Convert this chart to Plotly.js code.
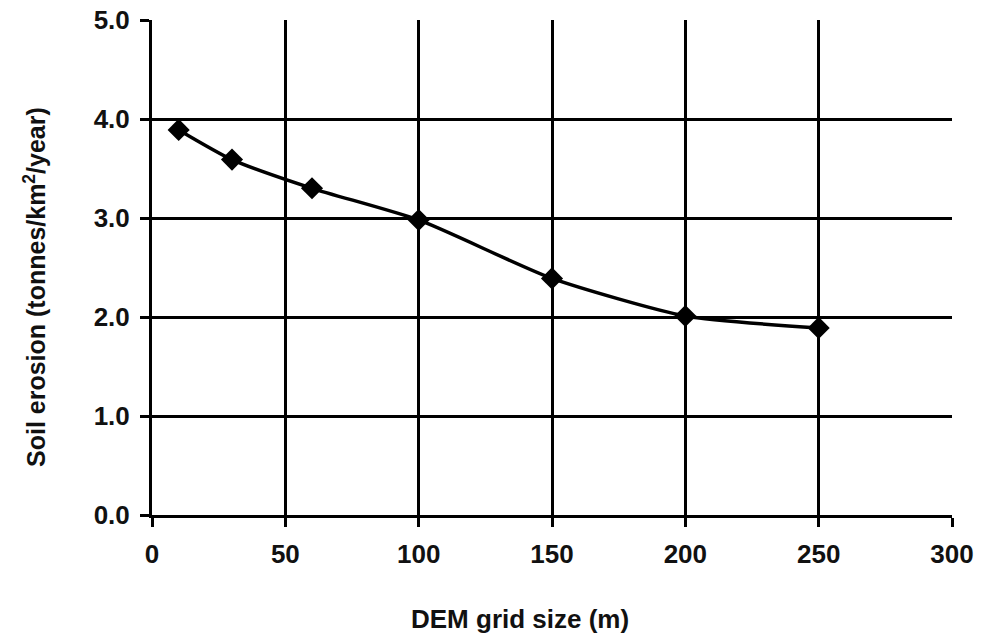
<!DOCTYPE html>
<html>
<head>
<meta charset="utf-8">
<script src="https://cdn.plot.ly/plotly-3.0.1.min.js"></script>
<style>html,body{margin:0;padding:0;background:#fff;}#chart{width:1000px;height:639px;}</style>
</head>
<body>
<div id="chart"></div>
<script>
const gridSize = [10, 30, 60, 100, 150, 200, 250];
const soilErosion = [3.89, 3.59, 3.30, 2.98, 2.39, 2.01, 1.89];
const xTitle = '<b>DEM grid size (m)</b>';
const yTitle = '<b>Soil erosion (tonnes/km<sup>2</sup>/year)</b>';

const fontFam = '"Liberation Sans", Arial, sans-serif';
const tickFont = {family: fontFam, size: 26, color: '#111', weight: 'bold'};

const trace = {
  x: gridSize,
  y: soilErosion,
  type: 'scatter',
  mode: 'lines+markers',
  line: {color: '#000', width: 3.5, shape: 'spline', smoothing: 0.6},
  marker: {symbol: 'diamond', size: 17, color: '#000'},
  showlegend: false,
  hoverinfo: 'x+y'
};

const layout = {
  width: 1000, height: 639,
  margin: {l: 152, r: 48, t: 20, b: 124},
  paper_bgcolor: '#fff', plot_bgcolor: '#fff',
  font: {family: fontFam, color: '#111', size: 21},
  xaxis: {
    range: [0, 300], dtick: 50, tick0: 0,
    showgrid: true, gridcolor: '#000', gridwidth: 3,
    ticks: 'outside', ticklen: 9, tickwidth: 3, tickcolor: '#000',
    showline: true, linecolor: '#000', linewidth: 3,
    zeroline: false,
    tickfont: tickFont,
    ticklabelstandoff: 5,
    automargin: false
  },
  yaxis: {
    range: [0, 5], dtick: 1, tick0: 0, tickformat: '.1f',
    showgrid: true, gridcolor: '#000', gridwidth: 3,
    ticks: 'outside', ticklen: 9, tickwidth: 3, tickcolor: '#000',
    showline: true, linecolor: '#000', linewidth: 3,
    zeroline: false,
    tickfont: tickFont,
    ticklabelstandoff: 5,
    automargin: false
  },
  annotations: [
    {text: xTitle, xref: 'paper', yref: 'paper', x: 0.46, y: -0.2101,
     xanchor: 'center', yanchor: 'middle', showarrow: false,
     font: {family: fontFam, size: 26, color: '#111'}},
    {text: yTitle, xref: 'paper', yref: 'paper', x: -0.14625, y: 0.4606,
     xanchor: 'center', yanchor: 'middle', showarrow: false, textangle: -90,
     font: {family: fontFam, size: 25, color: '#111'}}
  ]
};

Plotly.newPlot('chart', [trace], layout, {displayModeBar: false, staticPlot: true});
</script>
</body>
</html>
